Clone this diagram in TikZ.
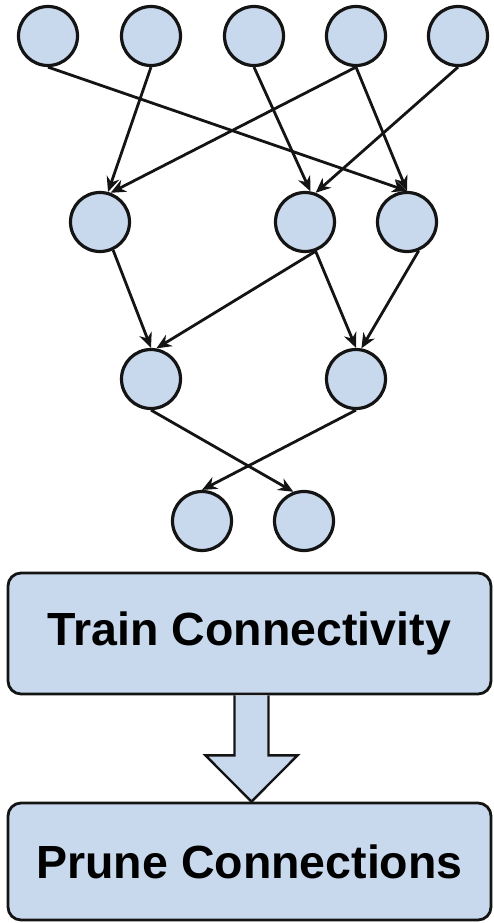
\documentclass[tikz,border=0pt]{standalone}
\usepackage{fontspec}
\setmainfont{Liberation Sans}
\usepackage{tikz}
\usetikzlibrary{arrows.meta, calc}
\definecolor{mydark}{RGB}{20,20,20}
\definecolor{nodeblue}{RGB}{201,217,237}
\tikzset{
  neuron/.style={circle, draw=mydark, fill=nodeblue,
    minimum size=59pt, inner sep=0pt, line width=3.2pt},
  stagebox/.style={rectangle, draw=mydark, fill=nodeblue,
    rounded corners=13pt, line width=2.8pt, inner sep=0pt,
    font=\fontsize{46.5}{50}\selectfont\bfseries},
  arrow/.style={-{Stealth[length=15pt, width=13pt]}, line width=2.8pt, color=mydark},
  bigarrow/.style={draw=mydark, fill=nodeblue, line width=2.4pt, line join=miter}
}

\begin{document}
\begin{tikzpicture}[x=1pt, y=-1pt]
  \useasboundingbox (0,0) rectangle (493,923);

  % Input layer
  \node[neuron] (i1) at (48,36) {};
  \node[neuron] (i2) at (151,36) {};
  \node[neuron] (i3) at (254,36) {};
  \node[neuron] (i4) at (356,36) {};
  \node[neuron] (i5) at (458,36) {};

  % Hidden layers
  \node[neuron] (h1) at (100,222) {};
  \node[neuron] (h2) at (305,222) {};
  \node[neuron] (h3) at (407,222) {};
  \node[neuron] (g1) at (151,379) {};
  \node[neuron] (g2) at (356,379) {};

  % Output layer
  \node[neuron] (o1) at (202,521) {};
  \node[neuron] (o2) at (304,521) {};

  % Sparse connections
  \draw[arrow] (i1.south) -- (h3.north);
  \draw[arrow] (i2.south) -- (h1.75);
  \draw[arrow] (i3.south) -- (h2.80);
  \draw[arrow] (i4.south) -- (h1.70);
  \draw[arrow] (i4.south) -- (h3.north);
  \draw[arrow] (i5.south) -- (h2.70);
  \draw[arrow] (h1.-65) -- (g1.north);
  \draw[arrow] (h2.-70) -- (g1.80);
  \draw[arrow] (h2.-70) -- (g2.north);
  \draw[arrow] (h3.-68) -- (g2.80);
  \draw[arrow] (g1.south) -- (o2.110);
  \draw[arrow] (g2.south) -- (o1.north);

  % Pipeline stages
  \node[stagebox, minimum width=483pt, minimum height=121pt] (train) at (249.5,633.5) {Train Connectivity};
  \node[stagebox, minimum width=483pt, minimum height=117pt] (prune) at (249.5,861.5) {Prune Connections};

  % Block arrow between stages
  \draw[bigarrow] ($(train.south)+(-15,0)$) -- ($(train.south)+(-15,60)$)
    -- ($(train.south)+(-44,60)$) -- ($(prune.north)+(2,0)$)
    -- ($(train.south)+(48,60)$) -- ($(train.south)+(19,60)$)
    -- ($(train.south)+(19,0)$);
\end{tikzpicture}
\end{document}
